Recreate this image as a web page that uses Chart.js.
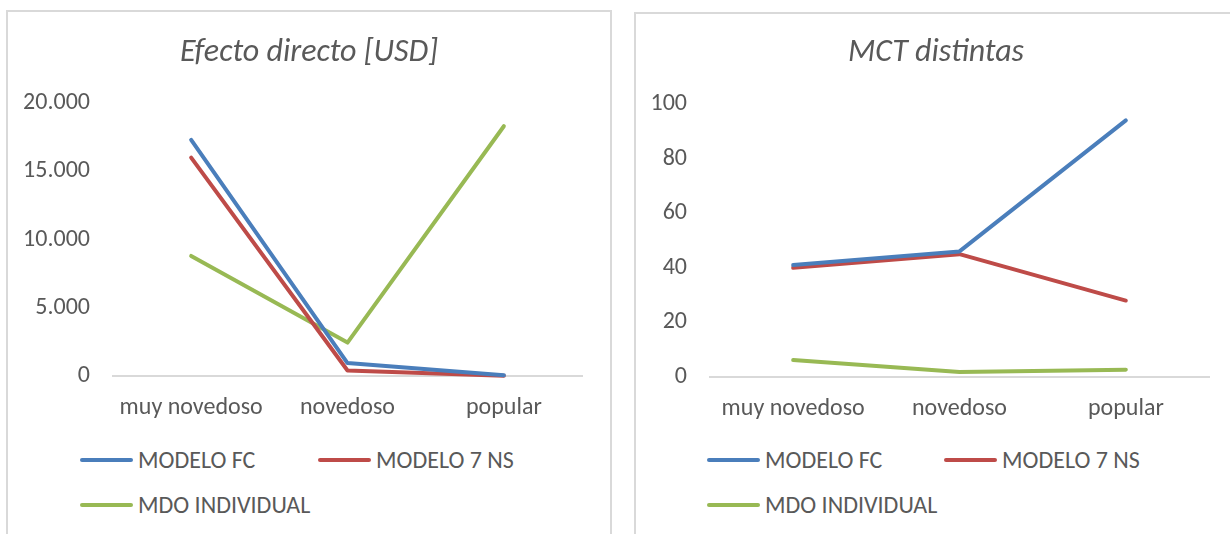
<!DOCTYPE html>
<html>
<head>
<meta charset="utf-8">
<script src="https://cdn.jsdelivr.net/npm/chart.js@4.4.1/dist/chart.umd.min.js"></script>
<style>
  html, body { margin: 0; padding: 0; background: #fff; }
  body { width: 1230px; height: 534px; overflow: hidden; position: relative;
         font-family: Carlito, Lato, sans-serif; }
  .frame { position: absolute; border: 2px solid #d9d9d9; box-sizing: border-box; }
  canvas { position: absolute; }
  .item { position: absolute; display: flex; align-items: center; color: #595959;
          font-size: 24px; white-space: nowrap; line-height: 1; }
  .swatch { display: inline-block; width: 53px; height: 4px; border-radius: 2px; margin-right: 5px; }
</style>
</head>
<body>
<div class="frame" style="left:6px; top:10px; width:606px; height:560px;"></div>
<div class="frame" style="left:634px; top:12px; width:610px; height:560px;"></div>
<canvas id="efecto" width="602" height="430" style="left:8px; top:12px;"></canvas>
<canvas id="mct" width="594" height="430" style="left:636px; top:13px;"></canvas>
<div id="legend-efecto"></div>
<div id="legend-mct"></div>
<script>
// Categories and series
const categories = ['muy novedoso', 'novedoso', 'popular'];
const seriesNames = ['MODELO FC', 'MODELO 7 NS', 'MDO INDIVIDUAL'];
const seriesColors = ['#4a7ebb', '#be4b48', '#98b954'];

// Efecto directo [USD]
const efectoFC = [17300, 950, 60];
const efecto7NS = [16000, 400, 20];
const efectoMDO = [8800, 2450, 18300];

// MCT distintas
const mctFC = [41, 46, 94];
const mct7NS = [40, 45, 28];
const mctMDO = [6.2, 1.8, 2.7];

const TEXT = '#595959';
const FONT = 'Carlito, Lato, sans-serif';
Chart.defaults.font.family = FONT;
Chart.defaults.color = TEXT;

function thousands(v) {
  return Number(v).toLocaleString('de-DE');
}

// Title centred on the whole canvas (not just the padded layout box)
const canvasTitle = {
  id: 'canvasTitle',
  afterDraw(chart, args, opts) {
    const ctx = chart.ctx;
    ctx.save();
    ctx.font = 'italic 32px ' + FONT;
    ctx.fillStyle = TEXT;
    ctx.textAlign = 'center';
    ctx.textBaseline = 'middle';
    ctx.fillText(opts.text, opts.x, opts.y);
    ctx.restore();
  }
};

function makeChart(id, title, series, yMax, yStep, fmt, yWidth, rightPad, titleX, titleY) {
  const datasets = series.map((vals, i) => ({
    label: seriesNames[i],
    data: vals,
    borderColor: seriesColors[i],
    backgroundColor: seriesColors[i],
    borderWidth: 4,
    borderCapStyle: 'round',
    borderJoinStyle: 'round',
    pointRadius: 0,
    pointHoverRadius: 0,
    tension: 0,
    clip: false
  }));
  return new Chart(document.getElementById(id), {
    type: 'line',
    data: { labels: categories, datasets },
    plugins: [canvasTitle],
    options: {
      responsive: false,
      animation: false,
      events: [],
      layout: { padding: { left: 0, right: rightPad, top: 91, bottom: 0 } },
      plugins: {
        legend: { display: false },
        tooltip: { enabled: false },
        title: { display: false },
        canvasTitle: { text: title, x: titleX, y: titleY }
      },
      scales: {
        x: {
          offset: true,
          grid: { display: false, drawTicks: false },
          border: { display: true, color: '#d9d9d9', width: 2 },
          ticks: { color: TEXT, font: { size: 24 }, padding: 18, maxRotation: 0 },
          afterFit: s => { s.height = 66; }
        },
        y: {
          min: 0,
          max: yMax,
          grid: { display: false, drawTicks: false },
          border: { display: false },
          ticks: { stepSize: yStep, color: TEXT, font: { size: 24 }, padding: 23, callback: fmt },
          afterFit: s => { s.width = yWidth; }
        }
      }
    }
  });
}

makeChart('efecto', 'Efecto directo [USD]', [efectoFC, efecto7NS, efectoMDO],
          20000, 5000, v => thousands(v), 105, 28, 301, 41);
makeChart('mct', 'MCT distintas', [mctFC, mct7NS, mctMDO],
          100, 20, v => String(v), 74, 21, 300, 40);

// Legends laid out in two columns below each plot
function buildLegend(containerId, left, cols) {
  const box = document.getElementById(containerId);
  const rows = [460, 505];
  seriesNames.forEach((name, i) => {
    const el = document.createElement('div');
    el.className = 'item';
    const col = i % 2, row = Math.floor(i / 2);
    el.style.left = (left + cols[col]) + 'px';
    el.style.top = (rows[row] - 12) + 'px';
    el.style.height = '24px';
    const sw = document.createElement('span');
    sw.className = 'swatch';
    sw.style.background = seriesColors[i];
    const tx = document.createElement('span');
    tx.textContent = name;
    el.appendChild(sw);
    el.appendChild(tx);
    box.appendChild(el);
  });
}
buildLegend('legend-efecto', 80, [0, 238]);
buildLegend('legend-mct', 707, [0, 237]);
</script>
</body>
</html>
